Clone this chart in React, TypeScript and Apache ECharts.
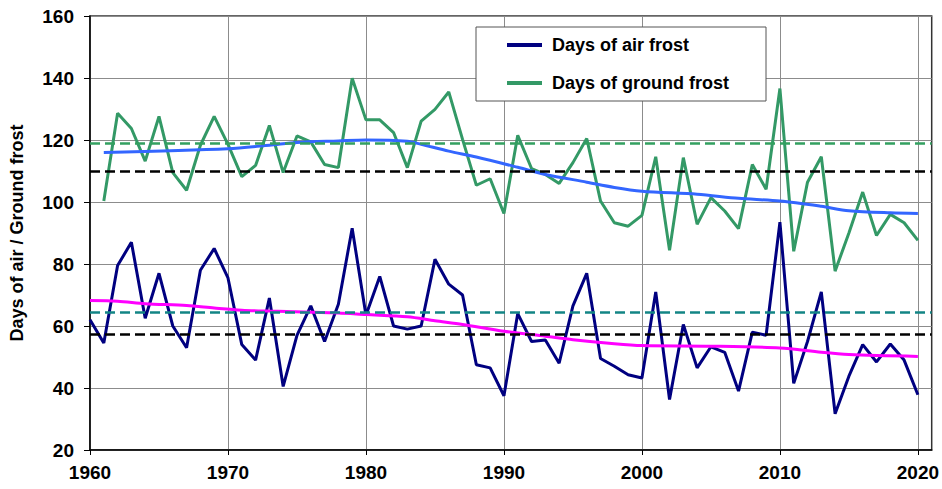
import React, { useEffect, useRef } from "react";
import * as echarts from "echarts";

const AIR_START = 1960;
const airFrost = [
  62, 54.5, 79.5, 87, 62.5, 77, 60, 53, 78, 85,
  75.5, 54, 49, 69, 40.5, 57, 66.5, 55, 67, 91.5,
  63.5, 76, 60, 59, 60, 81.5, 73.5, 70, 47.5, 46.5,
  37.5, 64, 55, 55.5, 48, 66.5, 77, 49.5, 47, 44.3,
  43.2, 71, 36.3, 60.5, 46.5, 53.3, 51.5, 39, 58, 57,
  93.5, 41.5, 55, 71, 31.7, 43.8, 54, 48.4, 54.2, 49, 37.8,
];

const GROUND_START = 1961;
const groundFrost = [
  100.3, 128.6, 123.7, 113.2, 127.6, 109.5, 103.8, 118.3, 127.6,
  118.6, 108.2, 111.8, 124.7, 109.5, 121.3, 119.4, 112.1, 111.1, 139.9,
  126.5, 126.5, 122.4, 111.1, 126.1, 129.9, 135.5, 120.2, 105.4, 107.5,
  96.3, 121.5, 110.8, 108.9, 106, 112.7, 120.5, 100.3, 93.3, 92.2,
  95.7, 114.6, 84.4, 114.3, 92.8, 101.4, 97.1, 91.4, 112.1, 104.1,
  136.6, 84.1, 106.4, 114.6, 77.7, 90, 103.2, 89.2, 96, 93.3, 87.6,
];

const groundTrendYears = [1961, 1970, 1973, 1975, 1978, 1980, 1983, 1984, 1986, 1988, 1991, 1993, 1996, 1998, 2000, 2004, 2007, 2010, 2013, 2015, 2018, 2020];
const groundTrendValues = [116, 117.2, 118.3, 119.2, 119.7, 120, 119.6, 118.6, 116.4, 114.5, 111.2, 108.9, 106.4, 104.7, 103.5, 102.5, 101.2, 100.3, 98.6, 97.2, 96.5, 96.3];

const airTrendYears = [1960, 1962, 1964, 1967, 1969, 1971, 1973, 1978, 1980, 1983, 1985, 1987, 1990, 1993, 1995, 1998, 2000, 2005, 2010, 2013, 2015, 2020];
const airTrendValues = [68.2, 68, 67.2, 66.6, 65.8, 65.1, 64.8, 64.2, 63.7, 63, 61.7, 60.5, 58.3, 56.7, 55.6, 54.3, 53.7, 53.5, 52.9, 51.5, 50.8, 50.2];

const groundMean = 118.8;
const groundBaseline = 110;
const airMean = 64.4;
const airBaseline = 57.5;

const xTicks = [1960, 1970, 1980, 1990, 2000, 2010, 2020];

const FONT = "'Liberation Sans', Arial, sans-serif";

export default function App() {
  const ref = useRef<HTMLDivElement>(null);
  useEffect(() => {
    const chart = echarts.init(ref.current!, null, { renderer: "svg" });
    const airData = airFrost.map((v, i) => [AIR_START + i, v]);
    const groundData = groundFrost.map((v, i) => [GROUND_START + i, v]);
    const groundTrend = groundTrendYears.map((y, i) => [y, groundTrendValues[i]]);
    const airTrend = airTrendYears.map((y, i) => [y, airTrendValues[i]]);
    const dashed = (value: number, color: string) => ({
      type: "line",
      data: [],
      markLine: {
        silent: true,
        symbol: "none",
        label: { show: false },
        lineStyle: { color, width: 2.5, type: [10, 5] },
        data: [{ yAxis: value }],
      },
      z: 5,
    });
    chart.setOption({
      animation: false,
      textStyle: { fontFamily: FONT },
      grid: {
        left: 88,
        top: 16,
        right: 8,
        bottom: 39,
        show: true,
        borderColor: "#333",
        borderWidth: 1.5,
        backgroundColor: "transparent",
      },
      xAxis: {
        type: "value",
        min: 1960,
        max: 2021,
        interval: 10,
        axisLine: { show: true, lineStyle: { color: "#000", width: 1.5 } },
        axisTick: { show: true, length: 5, lineStyle: { color: "#000" }, customValues: xTicks },
        axisLabel: {
          customValues: xTicks,
          formatter: (v: number) => (v % 10 === 0 ? String(v) : ""),
          color: "#000",
          fontWeight: "bold",
          fontSize: 19,
          fontFamily: FONT,
          margin: 13,
        },
        splitLine: { show: true, lineStyle: { color: "#8c8c8c", width: 1 } },
      },
      yAxis: {
        type: "value",
        min: 20,
        max: 160,
        interval: 20,
        name: "Days of air / Ground frost",
        nameLocation: "middle",
        nameGap: 64,
        nameRotate: 90,
        nameTextStyle: { color: "#000", fontWeight: "bold", fontSize: 18, fontFamily: FONT },
        axisLine: { show: true, lineStyle: { color: "#000", width: 1.5 } },
        axisTick: { show: true, length: 6, lineStyle: { color: "#000" } },
        axisLabel: { color: "#000", fontWeight: "bold", fontSize: 19, fontFamily: FONT, margin: 16 },
        splitLine: { show: true, lineStyle: { color: "#8c8c8c", width: 1 } },
      },
      legend: {
        orient: "vertical",
        left: 507,
        top: 35,
        padding: 0,
        itemGap: 18,
        itemWidth: 35,
        itemHeight: 4,
        icon: "rect",
        data: ["Days of air frost", "Days of ground frost"],
        textStyle: { color: "#000", fontWeight: "bold", fontSize: 18, fontFamily: FONT, lineHeight: 20, padding: [0, 0, 0, 5] },
        z: 6,
      },
      graphic: [
        {
          type: "rect",
          shape: { x: 476, y: 27, width: 290, height: 74 },
          style: { fill: "#fff", stroke: "#555", lineWidth: 1 },
          z: 4,
          silent: true,
        },
      ],
      series: [
        {
          name: "Days of ground frost",
          type: "line",
          data: groundData,
          symbol: "none",
          lineStyle: { color: "#339966", width: 3 },
          itemStyle: { color: "#339966" },
          z: 2,
        },
        {
          name: "Days of air frost",
          type: "line",
          data: airData,
          symbol: "none",
          lineStyle: { color: "#000080", width: 3 },
          itemStyle: { color: "#000080" },
          z: 2,
        },
        {
          name: "groundTrend",
          type: "line",
          data: groundTrend,
          symbol: "none",
          smooth: 0.3,
          lineStyle: { color: "#3366ff", width: 3 },
          z: 3,
        },
        {
          name: "airTrend",
          type: "line",
          data: airTrend,
          symbol: "none",
          smooth: 0.3,
          lineStyle: { color: "#ff00ff", width: 3 },
          z: 3,
        },
        dashed(groundMean, "#33a060"),
        dashed(groundBaseline, "#000"),
        dashed(airMean, "#138585"),
        dashed(airBaseline, "#000"),
      ],
    });
    return () => chart.dispose();
  }, []);
  return <div ref={ref} style={{ position: "absolute", left: 0, top: 0, width: 942, height: 489 }} />;
}
